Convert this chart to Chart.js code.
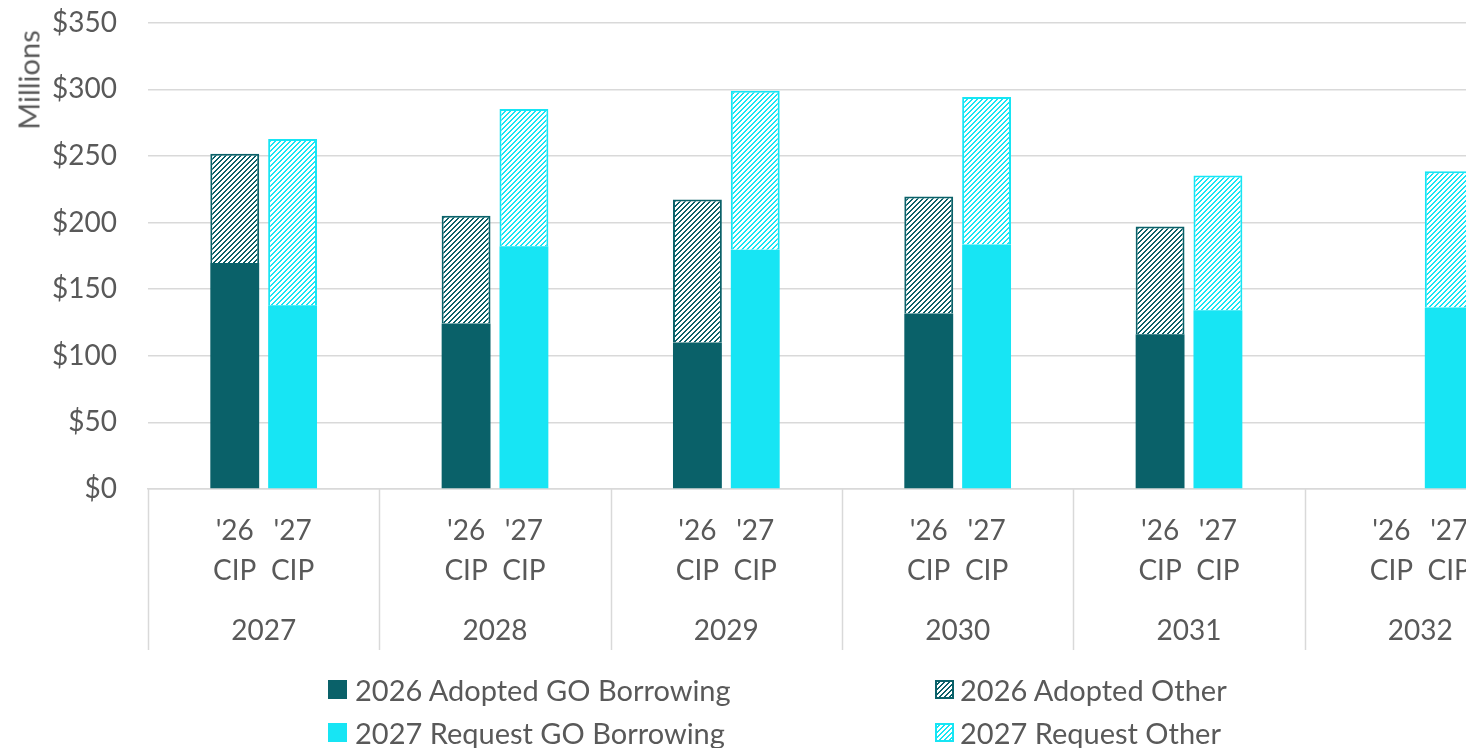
<!DOCTYPE html>
<html>
<head>
<meta charset="utf-8">
<script src="https://cdn.jsdelivr.net/npm/chart.js@4/dist/chart.umd.min.js"></script>
<style>
  html, body { margin: 0; padding: 0; background: #fff; overflow: hidden; width: 1466px; height: 748px; }
  #wrap { position: absolute; left: 0; top: -25px; width: 1560px; height: 773px; }
  #units { position: absolute; left: 28px; top: 80px; transform: translate(-50%, -50%) rotate(-90deg);
    font: 29px Lato, sans-serif; color: #595959; white-space: nowrap; }
  .leg { position: absolute; font: 29px Lato, sans-serif; color: #595959; white-space: nowrap; line-height: 34px; }
  .leg canvas, .leg .sw { position: absolute; left: 0; top: 7px; width: 19px; height: 19px; }
  .leg span { position: absolute; left: 27px; top: 0; }
</style>
</head>
<body>
<div id="wrap"><canvas id="c" width="1560" height="773"></canvas></div>
<div id="units">Millions</div>
<div class="leg" style="left:328px; top:673px;"><div class="sw" style="background:#0a6169"></div><span>2026 Adopted GO Borrowing</span></div>
<div class="leg" style="left:935px; top:673px;"><canvas id="sw2" width="19" height="19"></canvas><span style="left:25px">2026 Adopted Other</span></div>
<div class="leg" style="left:328px; top:716px;"><div class="sw" style="background:#17e5f4"></div><span>2027 Request GO Borrowing</span></div>
<div class="leg" style="left:935px; top:716px;"><canvas id="sw4" width="19" height="19"></canvas><span style="left:25px">2027 Request Other</span></div>
<script>
// ---- data ----
const years = ['2027', '2028', '2029', '2030', '2031', '2032'];
const cipLabels = [["'26", "CIP"], ["'27", "CIP"]];
const adopted2026GO = [169.6, 124.2, 109.9, 131.7, 116.2, null];
const adopted2026Other = [82.0, 80.9, 107.4, 87.9, 80.9, null];
const request2027GO = [137.9, 182.3, 179.6, 183.6, 134.2, 136.2];
const request2027Other = [124.9, 103.0, 119.4, 110.7, 101.1, 102.4];
const yTicks = [0, 50, 100, 150, 200, 250, 300, 350];

const DARK = '#0a6169', CYAN = '#17e5f4', TEXT = '#595959', GRID = '#d9d9d9';

function hatch(color) {
  const c = document.createElement('canvas');
  c.width = 10; c.height = 10;
  const x = c.getContext('2d');
  x.fillStyle = '#fff'; x.fillRect(0, 0, 10, 10);
  x.fillStyle = color;
  for (let i = 0; i < 10; i++) for (let j = 0; j < 10; j++) if ((i + j) % 5 < 2) x.fillRect(i, j, 1, 1);
  return x.createPattern(c, 'repeat');
}
const hatchDark = hatch(DARK), hatchCyan = hatch(CYAN);

function swatch(id, pat, color) {
  const x = document.getElementById(id).getContext('2d');
  x.fillStyle = pat; x.fillRect(0, 0, 19, 19);
  x.strokeStyle = color; x.lineWidth = 2; x.strokeRect(1, 1, 17, 17);
}
swatch('sw2', hatchDark, DARK);
swatch('sw4', hatchCyan, CYAN);

// 4 slots per year: blank, '26 CIP, '27 CIP, blank
const labels = [];
years.forEach(() => { labels.push(''); labels.push(cipLabels[0]); labels.push(cipLabels[1]); labels.push(''); });
function spread(arr, slot) {
  const out = [];
  arr.forEach(v => { for (let s = 0; s < 4; s++) out.push(s === slot ? v : null); });
  return out;
}

const groupPlugin = {
  id: 'groups',
  afterDraw(chart) {
    const ctx = chart.ctx, xs = chart.scales.x, area = chart.chartArea;
    const step = xs.getPixelForValue(1) - xs.getPixelForValue(0);
    ctx.save();
    ctx.strokeStyle = GRID; ctx.lineWidth = 1.5;
    for (let g = 0; g <= years.length; g++) {
      const px = xs.getPixelForValue(4 * g) - step / 2;
      ctx.beginPath(); ctx.moveTo(Math.round(px) + 0.5, area.bottom); ctx.lineTo(Math.round(px) + 0.5, area.bottom + 161); ctx.stroke();
    }
    ctx.fillStyle = TEXT; ctx.font = '28px Lato, sans-serif';
    ctx.textAlign = 'center'; ctx.textBaseline = 'middle';
    years.forEach((y, g) => {
      const cx = (xs.getPixelForValue(4 * g + 1) + xs.getPixelForValue(4 * g + 2)) / 2;
      ctx.fillText(y, cx, area.bottom + 142);
    });
    ctx.restore();
  }
};

new Chart(document.getElementById('c'), {
  type: 'bar',
  data: {
    labels: labels,
    datasets: [
      { label: '2026 Adopted GO Borrowing', data: spread(adopted2026GO, 1), backgroundColor: DARK, borderWidth: 0 },
      { label: '2026 Adopted Other', data: spread(adopted2026Other, 1), backgroundColor: hatchDark, borderColor: DARK, borderWidth: 2 },
      { label: '2027 Request GO Borrowing', data: spread(request2027GO, 2), backgroundColor: CYAN, borderWidth: 0 },
      { label: '2027 Request Other', data: spread(request2027Other, 2), backgroundColor: hatchCyan, borderColor: CYAN, borderWidth: 2 }
    ]
  },
  options: {
    responsive: false,
    animation: false,
    layout: { padding: { top: 0, right: 24, bottom: 0, left: 0 } },
    plugins: { legend: { display: false }, tooltip: { enabled: false } },
    datasets: { bar: { categoryPercentage: 1, barPercentage: 0.845, grouped: false } },
    scales: {
      x: {
        stacked: true,
        grid: { display: false, drawTicks: false },
        border: { display: true, color: GRID, width: 1.5 },
        ticks: { color: TEXT, font: { family: 'Lato', size: 28, lineHeight: 1.43 }, padding: 22, maxRotation: 0, autoSkip: false },
        afterFit(s) { s.height = 259; }
      },
      y: {
        stacked: true,
        min: 0, max: 350,
        afterBuildTicks(s) { s.ticks = yTicks.map(v => ({ value: v })); },
        grid: { color: GRID, lineWidth: 1.5, drawTicks: false },
        border: { display: false },
        ticks: { color: TEXT, font: { family: 'Lato', size: 28 }, padding: 31, callback: v => '$' + v },
        afterFit(s) { s.width = 148; }
      }
    }
  },
  plugins: [groupPlugin]
});
</script>
</body>
</html>
